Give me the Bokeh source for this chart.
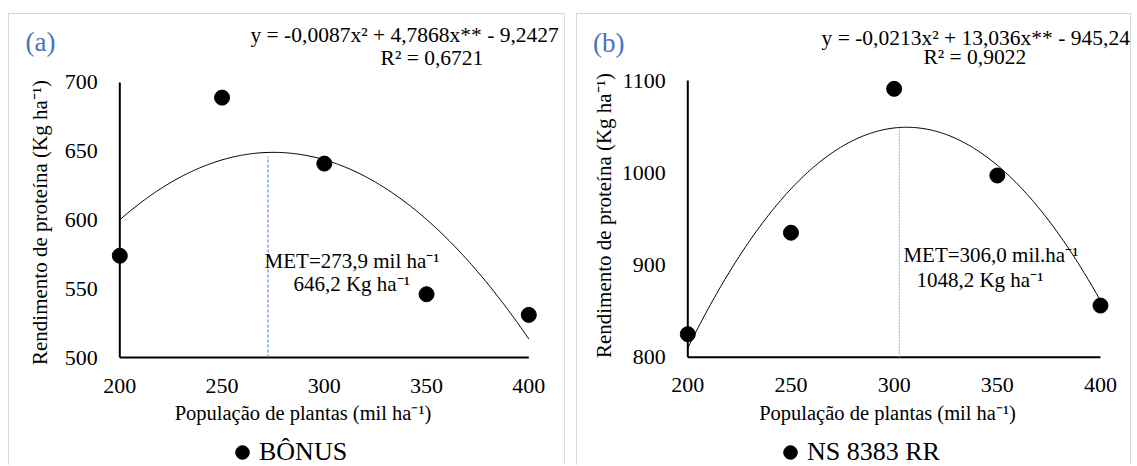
import numpy as np
from bokeh.plotting import figure
from bokeh.models import ColumnDataSource, Range1d, FixedTicker, Label, Legend, LegendItem
from bokeh.layouts import row
from bokeh.embed import file_html
from bokeh.resources import INLINE

# ---------------- data ----------------
populacao = [200, 250, 300, 350, 400]
bonus = [574, 689, 641, 546, 531]
ns8383 = [825, 935, 1091, 997, 856]

coef_bonus = [-0.0087, 4.7868, -9.2427]
coef_ns = [-0.0213, 13.036, -945.24]

met_bonus_x, met_bonus_y = 272.5, 646.2
met_ns_x, met_ns_y = 302.5, 1048.2

x_ticks = [200, 250, 300, 350, 400]
y_ticks_bonus = [500, 550, 600, 650, 700]
y_ticks_ns = [800, 900, 1000, 1100]

eq_bonus = "y = -0,0087x² + 4,7868x** - 9,2427"
r2_bonus = "R² = 0,6721"
eq_ns = "y = -0,0213x² + 13,036x** - 945,24"
r2_ns = "R² = 0,9022"
met_bonus_l1 = "MET=273,9 mil ha⁻¹"
met_bonus_l2 = "646,2 Kg ha⁻¹"
met_ns_l1 = "MET=306,0 mil.ha⁻¹"
met_ns_l2 = "1048,2 Kg ha⁻¹"

x_title = "População de plantas (mil ha⁻¹)"
y_title = "Rendimento de proteína (Kg ha⁻¹)"

FONT = "Liberation Serif"


def make_panel(tag, vals, coef, met_x, met_y, y_ticks, eq, r2, met1, met2, cultivar,
               width, x_range, y_range, pos_tag, pos_eq, pos_r2, pos_m1, pos_m2,
               pos_xt, pos_yt, legend_loc, met_color, met_dash):
    p = figure(width=width, height=452, output_backend="svg", toolbar_location=None,
               title=None, x_range=Range1d(*x_range), y_range=Range1d(*y_range),
               min_border=0)
    p.styles = {"border": "1px solid #d9d9d9", "border-bottom": "none"}
    p.background_fill_color = "white"
    p.border_fill_color = "white"
    p.outline_line_color = None
    p.xgrid.grid_line_color = None
    p.ygrid.grid_line_color = None

    for ax in (p.xaxis[0], p.yaxis[0]):
        ax.axis_line_color = None
        ax.major_tick_line_color = None
        ax.minor_tick_line_color = None
        ax.major_tick_out = 0
        ax.major_tick_in = 0
        ax.major_label_text_font = FONT
        ax.major_label_text_font_size = "22px"
        ax.major_label_text_color = "black"
    p.xaxis.major_label_standoff = 21
    p.yaxis.major_label_standoff = 22
    p.xaxis.ticker = FixedTicker(ticks=x_ticks)
    p.yaxis.ticker = FixedTicker(ticks=y_ticks)
    p.xaxis.fixed_location = y_ticks[0]
    p.yaxis.fixed_location = x_ticks[0]

    # axis lines
    p.segment(x0=[x_ticks[0], x_ticks[0]], y0=[y_ticks[0], y_ticks[0]],
              x1=[x_ticks[-1], x_ticks[0]], y1=[y_ticks[0], y_ticks[-1]],
              line_color="black", line_width=2)

    # trend line from displayed equation
    xs = np.linspace(populacao[0], populacao[-1], 201)
    ys = coef[0] * xs ** 2 + coef[1] * xs + coef[2]
    p.line(xs, ys, line_color="black", line_width=1)

    # MET line
    p.segment(x0=[met_x], y0=[y_ticks[0]], x1=[met_x], y1=[met_y],
              line_color=met_color, line_width=1, line_dash=met_dash)

    src = ColumnDataSource(dict(x=populacao, y=vals))
    r = p.scatter("x", "y", source=src, size=15, color="black")

    def lab(txt, pos, size="21.5px", color="black", align="left", angle=0.0):
        p.add_layout(Label(x=pos[0], y=pos[1], text=txt, text_font=FONT,
                           text_font_size=size, text_color=color, angle=angle,
                           text_baseline="middle", text_align=align))

    lab(tag, pos_tag, size="27px", color="#4472C4")
    lab(eq, pos_eq)
    lab(r2, pos_r2)
    lab(met1, pos_m1, size="21px")
    lab(met2, pos_m2, size="21px")
    lab(x_title, pos_xt, size="20.5px", align="center")
    lab(y_title, pos_yt, size="21px", align="center", angle=np.pi / 2)

    leg = Legend(items=[LegendItem(label=cultivar, renderers=[r])],
                 location=legend_loc, glyph_width=34, glyph_height=40,
                 label_height=40, label_standoff=0, padding=0, margin=0,
                 spacing=0, background_fill_alpha=0, border_line_color=None,
                 label_text_font=FONT, label_text_font_size="26px",
                 label_text_color="black")
    p.add_layout(leg)
    return p


p1 = make_panel("(a)", bonus, coef_bonus, met_bonus_x, met_bonus_y, y_ticks_bonus,
                eq_bonus, r2_bonus, met_bonus_l1, met_bonus_l2, "BÔNUS",
                width=557, x_range=(146.06, 418.43), y_range=(420.73, 749.45),
                pos_tag=(153.9, 729.1), pos_eq=(263.9, 734.2), pos_r2=(327.5, 717.5),
                pos_m1=(270.8, 570.5), pos_m2=(284.9, 553.8),
                pos_xt=(289.6, 459.3), pos_yt=(161.2, 598.2),
                legend_loc=(216, -6), met_color="#4472C4", met_dash="3 2")

p2 = make_panel("(b)", ns8383, coef_ns, met_ns_x, met_ns_y, y_ticks_ns,
                eq_ns, r2_ns, met_ns_l1, met_ns_l2, "NS 8383 RR",
                width=555, x_range=(146.55, 415.51), y_range=(681.5, 1171.6),
                pos_tag=(154.1, 1141.2), pos_eq=(264.8, 1146.6), pos_r2=(314.2, 1125.0),
                pos_m1=(304.5, 910.3), pos_m2=(310.8, 883.2),
                pos_xt=(296.8, 739.0), pos_yt=(159.6, 953.6),
                legend_loc=(196, -6), met_color="#8FAADC", met_dash="2 1")

layout = row(p1, p2, spacing=11)
layout.styles = {"margin-top": "13px", "margin-left": "8px"}

open("out.html", "w").write(file_html(layout, INLINE))
